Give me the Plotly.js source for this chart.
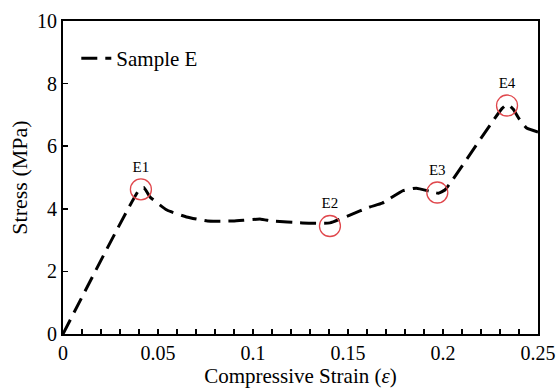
<!DOCTYPE html>
<html>
<head>
<meta charset="utf-8">
<script src="https://cdn.plot.ly/plotly-3.0.1.min.js"></script>
<style>html,body{margin:0;padding:0;background:#fff;}#chart{width:558px;height:388px;}</style>
</head>
<body>
<div id="chart"></div>
<script>
// Stress–strain curve of Sample E
const strain = [0, 0.0400, 0.0425, 0.0458, 0.0547, 0.065, 0.076, 0.0895, 0.104, 0.110, 0.126, 0.1405, 0.151, 0.1616, 0.168, 0.179, 0.186, 0.193, 0.1975, 0.201, 0.2053, 0.2310, 0.2340, 0.2370, 0.2400, 0.244, 0.250];
const stress = [0, 4.60, 4.68, 4.38, 3.96, 3.74, 3.61, 3.61, 3.67, 3.61, 3.55, 3.55, 3.80, 4.06, 4.18, 4.58, 4.66, 4.56, 4.50, 4.60, 4.95, 7.20, 7.34, 7.18, 6.88, 6.58, 6.45];

// Marked characteristic points
const pointLabels = ["E1", "E2", "E3", "E4"];
const pointStrain = [0.041, 0.1405, 0.197, 0.2337];
const pointStress = [4.62, 3.45, 4.52, 7.30];

const xTickVals = [0, 0.05, 0.1, 0.15, 0.2, 0.25];
const xTickText = ["0", "0.05", "0.1", "0.15", "0.2", "0.25"];
const yTickVals = [0, 2, 4, 6, 8, 10];

const serif = "'Liberation Serif', 'Times New Roman', Times, serif";

const traces = [
  {
    x: strain, y: stress, type: "scatter", mode: "lines",
    name: "Sample E",
    line: {color: "#000", width: 3, dash: "16px,8px", shape: "spline", smoothing: 0.4}
  },
  {
    x: pointStrain, y: pointStress, type: "scatter", mode: "markers+text",
    text: pointLabels, textposition: "top center",
    textfont: {family: serif, size: 15, color: "#000"},
    marker: {symbol: "circle-open", size: 21, color: "#e0474c", line: {width: 1.3, color: "#e0474c"}},
    showlegend: false, hoverinfo: "skip"
  }
];

const layout = {
  width: 558, height: 388,
  margin: {l: 63, r: 20, t: 21, b: 54},
  paper_bgcolor: "#fff", plot_bgcolor: "#fff",
  font: {family: serif, color: "#000", size: 20},
  showlegend: true,
  legend: {x: 0.028, y: 0.88, xanchor: "left", yanchor: "middle", bgcolor: "rgba(0,0,0,0)", font: {family: serif, size: 21}},
  xaxis: {
    range: [0, 0.25], tickvals: xTickVals, ticktext: xTickText,
    ticks: "inside", ticklen: 5, tickwidth: 1.5, tickcolor: "#000",
    minor: {dtick: 0.01, tick0: 0, ticks: "inside", ticklen: 5, tickwidth: 1.5, tickcolor: "#000"},
    showline: true, linewidth: 2, linecolor: "#000", mirror: true,
    showgrid: false, zeroline: false, automargin: false,
    tickfont: {family: serif, size: 20},
    title: {text: "Compressive Strain (<i>ε</i>)", font: {family: serif, size: 21}, standoff: 0}
  },
  yaxis: {
    range: [0, 10], tickvals: yTickVals,
    ticks: "inside", ticklen: 5, tickwidth: 1.5, tickcolor: "#000",
    showline: true, linewidth: 2, linecolor: "#000", mirror: true,
    showgrid: false, zeroline: false, automargin: false,
    tickfont: {family: serif, size: 20},
    title: {text: "Stress (MPa)", font: {family: serif, size: 22}, standoff: 3}
  }
};

Plotly.newPlot("chart", traces, layout, {staticPlot: true, displayModeBar: false});
</script>
</body>
</html>
